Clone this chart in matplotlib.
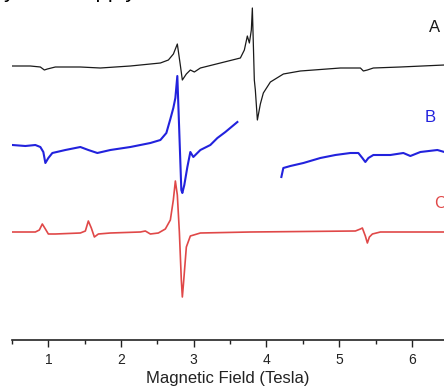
import numpy as np
import matplotlib.pyplot as plt

plt.rcParams['font.family'] = ['Liberation Sans', 'DejaVu Sans']

# magnetic field (Tesla) and signal (arb. units)
field_a = [0.505, 0.752, 0.890, 0.945, 0.986, 1.096, 1.440, 1.715, 2.128, 2.541,
           2.651, 2.720, 2.774, 2.815, 2.843, 2.898, 2.953, 3.008, 3.091, 3.366,
           3.641, 3.696, 3.737, 3.765, 3.792, 3.806, 3.833, 3.847, 3.875, 3.916,
           3.957, 4.054, 4.233, 4.466, 5.017, 5.292, 5.333, 5.388, 5.470, 5.842, 6.447]
sig_a = [1, 1, 0, -3, -2, 0, 0, -1, 1, 4,
         7, 13, 23, 2, -13, -7, -3, -5, -1, 4,
         9, 17, 31, 24, 37, 59, -13, -23, -53, -37,
         -26, -15, -7, -4, -1, -1, -4, -3, -1, 0, 2]

field_b = [0.505, 0.684, 0.821, 0.890, 0.931, 0.959, 1.000, 1.055, 1.234, 1.440,
           1.550, 1.674, 1.853, 2.128, 2.403, 2.541, 2.623, 2.678, 2.719, 2.747,
           2.774, 2.829, 2.843, 2.870, 2.912, 2.953, 2.994, 3.091, 3.228, 3.325,
           3.435, 3.600,
           np.nan,
           4.205, 4.232, 4.329, 4.508, 4.741, 4.948, 5.154, 5.264, 5.319, 5.360,
           5.402, 5.470, 5.704, 5.883, 5.979, 6.117, 6.351, 6.447]
sig_b = [2, 1, 2, 0, -5, -16, -11, -6, -3, 0,
         -3, -6, -3, 0, 4, 7, 14, 28, 39, 49,
         71, -43, -46, -38, -20, -5, -10, -3, 2, 9,
         15, 25,
         np.nan,
         -30, -21, -19, -16, -11, -8, -6, -6, -11, -15,
         -11, -8, -8, -6, -9, -5, -3, -5]

field_c = [0.505, 0.821, 0.876, 0.917, 0.959, 1.000, 1.096, 1.440, 1.509, 1.550,
           1.591, 1.633, 1.688, 1.853, 2.265, 2.334, 2.403, 2.513, 2.609, 2.678,
           2.719, 2.747, 2.774, 2.802, 2.829, 2.843, 2.857, 2.898, 2.953, 3.091,
           3.779, 5.223, 5.292, 5.319, 5.360, 5.388, 5.416, 5.457, 5.567, 6.447]
sig_c = [0, 0, 2, 8, 3, -2, -2, -1, 1, 11,
         4, -5, -2, -1, 0, 1, -2, -1, 3, 12,
         32, 51, 37, 0, -48, -65, -53, -15, -4, -1,
         0, 1, 3, 4, -4, -11, -5, -2, 0, 0]

labels = ['A', 'B', 'C']
colors = ['#1a1a1a', '#2222dd', '#e04848']
offsets = [-67, -147, -232]
widths = [0.9, 1.5, 1.2]

fig = plt.figure(figsize=(4.44, 3.90), dpi=100)
ax = fig.add_axes([12 / 444, 50 / 390, 432 / 444, 340 / 390])

series = [(field_a, sig_a), (field_b, sig_b), (field_c, sig_c)]
for (f, s), c, off, lw in zip(series, colors, offsets, widths):
    ax.plot(f, np.array(s, dtype=float) + off, color=c, lw=lw)

# trace labels at the right
label_y = [-27, -117, -203]
label_x = [6.23, 6.17, 6.30]
for lab, c, x, y in zip(labels, colors, label_x, label_y):
    ax.text(x, y, lab, color=c, fontsize=12, ha='left', va='center')

ax.set_xlim(0.5, 6.442)
ax.set_ylim(-340, 0)
ax.set_xticks([1, 2, 3, 4, 5, 6])
ax.set_xticks(np.arange(0.5, 6.5, 1.0), minor=True)
ax.tick_params(axis='x', which='major', direction='out', length=5, width=1,
               labelsize=10, pad=4, colors='#222222')
ax.tick_params(axis='x', which='minor', direction='out', length=3, width=1, colors='#222222')
ax.set_yticks([])
for side in ['top', 'left', 'right']:
    ax.spines[side].set_visible(False)
ax.spines['bottom'].set_linewidth(1.2)
ax.spines['bottom'].set_color('#222222')
ax.set_xlabel('Magnetic Field (Tesla)', fontsize=12, labelpad=3, color='#222222')

# cropped caption text at the very top of the picture
fig.text(4 / 444, 1 + 2.5 / 390, 'y', fontsize=16, va='baseline', ha='left')
fig.text(72 / 444, 1 + 2.5 / 390, 'supply', fontsize=16, va='baseline', ha='left')

fig.savefig('out.png', dpi=100)
